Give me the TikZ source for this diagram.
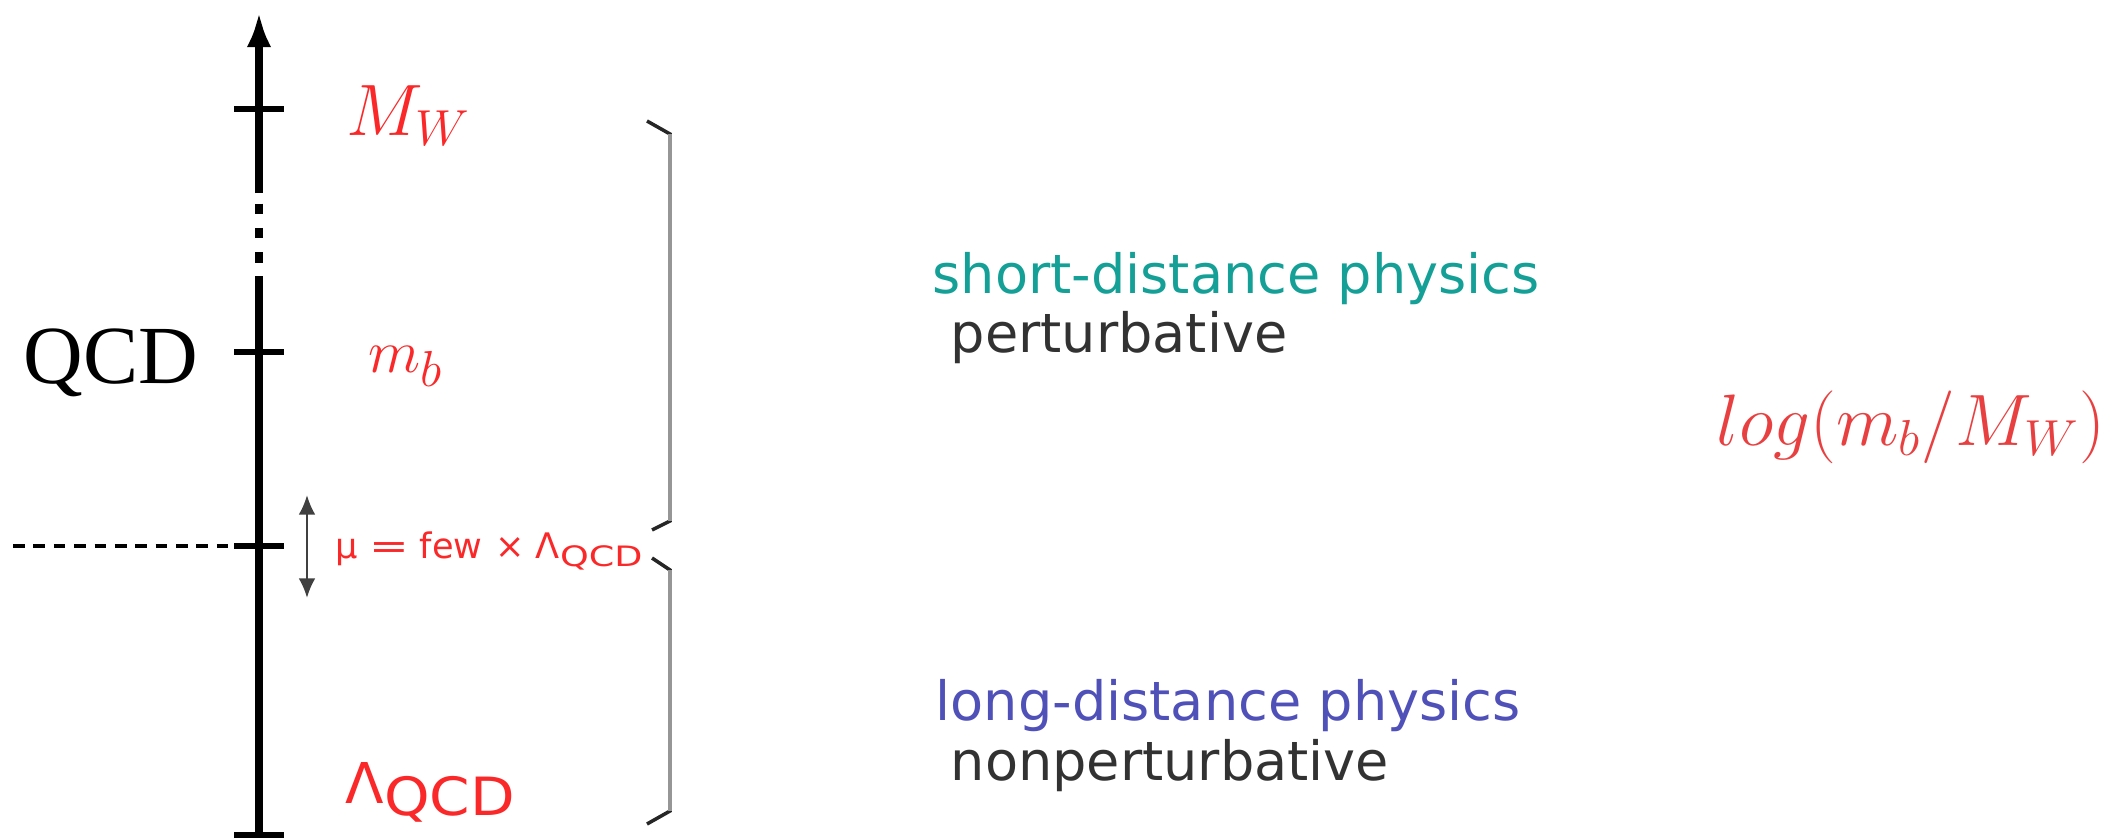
\documentclass[tikz,border=0pt]{standalone}
\usepackage{fontspec}
\usepackage{graphicx}
\newfontfamily\slidesans{DejaVu Sans}
\newfontfamily\slideserif{Liberation Serif}
\usetikzlibrary{arrows.meta}

\tikzset{
  scaletick/.style={line width=1.7pt},
  scalelbl/.style={text=scaleRed, inner sep=0pt, anchor=base west},
  physlbl/.style={inner sep=0pt, anchor=base west, font=\slidesans\fontsize{15.4}{18}\selectfont},
  bracetip/.style={line width=1pt, draw=black!85},
  braceline/.style={line width=1.3pt, draw=braceGray},
}

\begin{document}
\begin{tikzpicture}[x=1cm,y=1cm]

\definecolor{scaleRed}{RGB}{250,40,40}
\definecolor{logRed}{RGB}{232,64,64}
\definecolor{shortTeal}{RGB}{20,160,150}
\definecolor{longBlue}{RGB}{80,80,185}
\definecolor{textGray}{RGB}{50,50,50}
\definecolor{braceGray}{RGB}{150,150,150}

\path[use as bounding box] (0,0) rectangle (21.18,8.39);

% axis
\coordinate (bot) at (2.59,0.04);
\coordinate (gapLo) at (2.59,5.59);
\coordinate (gapHi) at (2.59,6.46);
\coordinate (top) at (2.59,8.27);
\coordinate (tMW) at (2.59,7.30);
\coordinate (tmb) at (2.59,4.87);
\coordinate (tmu) at (2.59,2.93);

\draw[line width=2.1pt] (bot) -- (gapLo);
\draw[line width=2.1pt, dash pattern=on 3pt off 3.9pt, dash phase=3.9pt] (gapHi) -- (gapLo);
\draw[line width=2.1pt, -{Latex[length=10pt,width=7pt]}] (gapHi) -- (top);

% ticks
\foreach \c in {tMW,tmb,tmu,bot}
  \draw[scaletick] ([xshift=-0.25cm]\c) -- ([xshift=0.25cm]\c);

% matching scale
\coordinate (dashL) at (0.13,2.93);
\draw[line width=1pt, dash pattern=on 3.3pt off 2.5pt] (dashL) -- (tmu);
\coordinate (muHi) at (3.07,3.44);
\coordinate (muLo) at (3.07,2.41);
\draw[line width=0.7pt, draw=black!75, {Latex[length=5.6pt,width=4.8pt]}-{Latex[length=5.6pt,width=4.8pt]}] (muLo) -- (muHi);

% scale labels
\node[scalelbl, font=\fontsize{20}{24}\selectfont] (MW) at (3.46,7.04) {$M_W$};
\node[scalelbl, font=\fontsize{19}{23}\selectfont] (mb) at (3.68,4.67) {$m_b$};
\node[inner sep=0pt, anchor=base east, font=\slideserif\fontsize{23.5}{28}\selectfont] (QCD) at (1.99,4.56) {QCD};
\node[scalelbl, font=\slidesans\fontsize{10}{12}\selectfont] (mu) at (3.35,2.81)
  {μ\hspace{0.11cm}\scalebox{1.35}[1]{=}\hspace{0.11cm}few\hspace{0.13cm}×\hspace{0.11cm}Λ\raisebox{-0.25em}{\fontsize{8}{9}\selectfont\scalebox{1.3}[1]{QCD}}};
\node[scalelbl, font=\slidesans\fontsize{16}{19}\selectfont] (LQCD) at (3.45,0.36)
  {Λ\raisebox{-0.22em}{\fontsize{15}{17}\selectfont\scalebox{1.1}[1]{QCD}}};

% braces
\draw[bracetip] (6.47,7.18) -- (6.70,7.05) -- (6.70,3.18) -- (6.52,3.09);
\draw[braceline] (6.70,7.05) -- (6.70,3.18);
\draw[bracetip] (6.52,2.81) -- (6.70,2.69) -- (6.70,0.28) -- (6.47,0.15);
\draw[braceline] (6.70,2.69) -- (6.70,0.28);

% physics regimes
\node[physlbl, text=shortTeal] (sdp) at (9.32,5.46) {short-distance physics};
\node[physlbl, text=textGray] (pert) at (9.50,4.87) {perturbative};
\node[physlbl, text=longBlue] (ldp) at (9.35,1.19) {long-distance physics};
\node[physlbl, text=textGray] (npert) at (9.50,0.59) {nonperturbative};

\node[inner sep=0pt, anchor=base west, text=logRed, font=\fontsize{21}{25}\selectfont] (log) at (17.16,3.94) {$log(m_b/M_W)$};

\end{tikzpicture}
\end{document}
